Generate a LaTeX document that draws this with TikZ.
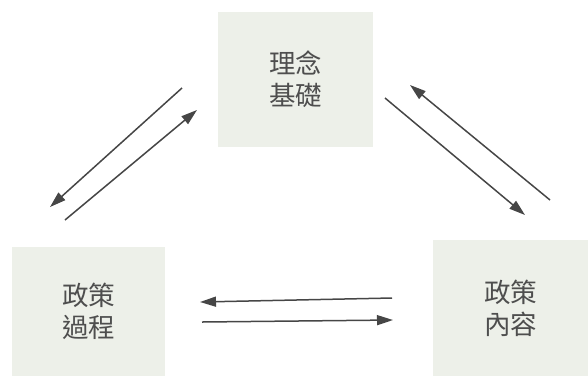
\documentclass[tikz,border=0pt]{standalone}
\usepackage{fontspec}
\newfontfamily\cjk{Noto Sans CJK TC}
\usetikzlibrary{arrows.meta}
\definecolor{boxfill}{RGB}{237,240,233}
\definecolor{ink}{RGB}{78,78,78}
\definecolor{arr}{RGB}{70,70,70}
\tikzset{
  concept/.style={fill=boxfill, draw=none, inner sep=0pt, align=center,
    text=ink, font=\cjk\fontsize{26.5}{32}\selectfont},
  flow/.style={draw=arr, line width=1.5pt, -{Triangle[length=16pt,width=10pt]}}
}
\begin{document}
\begin{tikzpicture}[x=1pt,y=-1pt]
\useasboundingbox (0,0) rectangle (588,376);
\node[concept, minimum width=155pt, minimum height=135pt] (top) at (295.5,79.5) {理念\\基礎};
\node[concept, minimum width=153pt, minimum height=129pt] (proc) at (88.5,311.5) {政策\\過程};
\node[concept, minimum width=155pt, minimum height=136pt] (cont) at (510.5,308) {政策\\內容};
% left pair
\coordinate (l1s) at (182,88);  \coordinate (l1e) at (50,207);
\coordinate (l2s) at (65,220);  \coordinate (l2e) at (197,110);
% right pair
\coordinate (r1s) at (550,200); \coordinate (r1e) at (410,85);
\coordinate (r2s) at (385,98);  \coordinate (r2e) at (525,215);
% bottom pair
\coordinate (b1s) at (392,298); \coordinate (b1e) at (200,302);
\coordinate (b2s) at (202,322); \coordinate (b2e) at (393,320);
\draw[flow] (l1s) -- (l1e);
\draw[flow] (l2s) -- (l2e);
\draw[flow] (r1s) -- (r1e);
\draw[flow] (r2s) -- (r2e);
\draw[flow] (b1s) -- (b1e);
\draw[flow] (b2s) -- (b2e);
\end{tikzpicture}
\end{document}
